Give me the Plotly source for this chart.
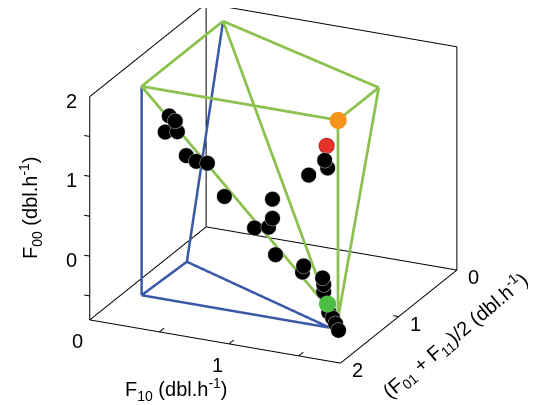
import plotly.graph_objects as go

# ---------------- data ----------------
x_range = [0, 1.8]      # F10
y_range = [2, 0]        # (F01+F11)/2, reversed (0 at back)
z_range = [-0.8, 2]     # F00

pts_x = [0.486, 0.529, 0.457, 0.544, 0.608, 0.680, 0.760, 0.882, 1.227, 1.227,
         1.199, 1.098, 1.249, 1.451, 1.443, 1.587, 1.595, 1.595, 1.652, 1.701,
         1.743, 1.785, 1.602, 1.623, 1.487]
pts_y = [1.8, 1.8, 1.8, 1.8, 1.8, 1.8, 1.8, 1.8, 1.8, 1.8,
         1.8, 1.8, 1.8, 1.8, 1.8, 1.8, 1.8, 1.8, 1.85, 1.9,
         1.95, 2.0, 1.8, 1.8, 1.8]
pts_z = [1.79, 1.74, 1.58, 1.61, 1.33, 1.28, 1.28, 0.90, 0.97, 0.73,
         0.61, 0.57, 0.28, 0.20, 0.12, 0.09, 0.01, -0.08, -0.29, -0.32,
         -0.35, -0.39, 1.57, 1.48, 1.35]

red_pt = [1.595, 1.75, 1.72]
orange_pt = [1.64, 1.66, 2.0]
green_pt = [1.706, 2.0, -0.084]

# polytope vertices (F10, (F01+F11)/2, F00)
verts = {
    "A": (0.23, 1.66, 2.0), "B": (0.23, 0.26, 2.0), "C": (1.64, 0.96, 2.0),
    "D": (1.64, 1.66, 2.0), "E1": (1.573, 1.66, -0.38), "E2": (1.64, 1.66, -0.49),
    "F": (0.23, 1.66, -0.62), "G": (0.25, 0.93, -0.62), "H": (1.58, 1.66, -0.62),
}
green_edges = [("A", "B"), ("B", "C"), ("C", "D"), ("D", "A"), ("A", "E1"),
               ("B", "E1"), ("D", "E2"), ("C", "E2"), ("E1", "E2")]
blue_edges = [("A", "F"), ("B", "G"), ("F", "G"), ("F", "H"), ("G", "H")]

x_ticks = [0, 0.5, 1, 1.5]; x_ticktext = ["0", "", "1", ""]
y_ticks = [0, 1, 2]; y_ticktext = ["0", "1", "2"]
z_ticks = [-0.5, 0, 0.5, 1, 1.5, 2]; z_ticktext = ["", "0", "", "1", "", "2"]

# ---------------- figure ----------------
FONT = "Liberation Sans, Arial, sans-serif"
x0, x1 = x_range
y0, y1 = min(y_range), max(y_range)
z0, z1 = z_range
pad, eps = 0.05, 0.01   # room for outward tick marks / avoid clipping at the box

def edge_xyz(edges):
    xs, ys, zs = [], [], []
    for a, b in edges:
        for v in (verts[a], verts[b]):
            xs.append(v[0]); ys.append(v[1]); zs.append(v[2])
        xs.append(None); ys.append(None); zs.append(None)
    return xs, ys, zs

def seg_xyz(segs):
    xs, ys, zs = [], [], []
    for p, q in segs:
        xs += [p[0], q[0], None]; ys += [p[1], q[1], None]; zs += [p[2], q[2], None]
    return xs, ys, zs

fig = go.Figure()

# axes box (MATLAB style: back planes + front axes) and tick marks
box = [
    ((x0, y1, z0), (x1, y1, z0)), ((x0, y0, z0), (x1, y0, z0)), ((x0, y0, z1), (x1, y0, z1)),
    ((x0, y0, z0), (x0, y1, z0)), ((x0, y0, z1), (x0, y1, z1)), ((x1, y0, z0), (x1, y1, z0)),
    ((x0, y1, z0), (x0, y1, z1)), ((x0, y0, z0), (x0, y0, z1)), ((x1, y0, z0), (x1, y0, z1)),
]
tl = 0.04
ticks = [((v, y1, z0), (v, y1 - 2 * tl, z0)) for v in x_ticks if x0 < v < x1]
ticks += [((x1, v, z0), (x1 - tl, v, z0)) for v in y_ticks if y0 < v < y1]
ticks += [((x0, y1, v), (x0 - tl, y1, v)) for v in z_ticks if z0 < v < z1]
bx, by, bz = seg_xyz(box + ticks)
fig.add_trace(go.Scatter3d(x=bx, y=by, z=bz, mode="lines",
                           line=dict(color="black", width=2), hoverinfo="skip"))

gx, gy, gz = edge_xyz(blue_edges)
fig.add_trace(go.Scatter3d(x=gx, y=gy, z=gz, mode="lines",
                           line=dict(color="#3B58A8", width=5), hoverinfo="skip"))
gx, gy, gz = edge_xyz(green_edges)
fig.add_trace(go.Scatter3d(x=gx, y=gy, z=gz, mode="lines",
                           line=dict(color="#8CC04F", width=5.5), hoverinfo="skip"))

fig.add_trace(go.Scatter3d(x=pts_x, y=pts_y, z=pts_z, mode="markers",
                           marker=dict(size=9, color="black",
                                       line=dict(color="#BBBBBB", width=1))))
fig.add_trace(go.Scatter3d(x=[red_pt[0]], y=[red_pt[1]], z=[red_pt[2]], mode="markers",
                           marker=dict(size=9, color="#E5332A",
                                       line=dict(color="#5A1010", width=1))))
fig.add_trace(go.Scatter3d(x=[orange_pt[0]], y=[orange_pt[1]], z=[orange_pt[2]], mode="markers",
                           marker=dict(size=10, color="#F7941D")))
fig.add_trace(go.Scatter3d(x=[green_pt[0]], y=[green_pt[1]], z=[green_pt[2]], mode="markers",
                           marker=dict(size=10, color="#4DBD48")))

def ax(rng):
    return dict(range=rng, showgrid=False, showbackground=False, showline=False,
                zeroline=False, showspikes=False, ticks="", showticklabels=False,
                title=dict(text=""))

tick_ann = []
for v, t in zip(z_ticks, z_ticktext):
    if t:
        tick_ann.append(dict(x=x0, y=y1, z=v, text=t, xshift=-18, yshift=-4))
for v, t in zip(x_ticks, x_ticktext):
    if t:
        tick_ann.append(dict(x=v, y=y1, z=z0, text=t, xshift=-12, yshift=-21))
for v, t in zip(y_ticks, y_ticktext):
    if t:
        tick_ann.append(dict(x=x1, y=v, z=z0, text=t, xshift=17, yshift=-7))
for a in tick_ann:
    a.update(showarrow=False, xanchor="center", yanchor="middle",
             font=dict(family=FONT, size=20, color="black"))

# scene scaling (scene units per data unit) and view
kx, ky, kz = 0.7583, 0.6825, 0.4241
xr = [x0 - pad, x1 + eps]; yr = [y1 + eps, y0 - eps]; zr = [z0 - eps, z1 + eps]
shift = dict(x=0.0456, y=-0.0342, z=-0.127)
eye_dir = (1.173, -2.526, 1.113)

fig.update_layout(
    width=536, height=405, margin=dict(l=0, r=0, t=0, b=0),
    paper_bgcolor="white", showlegend=False,
    font=dict(family=FONT, size=20, color="black"),
    scene=dict(
        xaxis=ax(xr), yaxis=ax(yr), zaxis=ax(zr),
        aspectmode="manual",
        aspectratio=dict(x=(xr[1] - xr[0]) * kx, y=(yr[0] - yr[1]) * ky,
                         z=(zr[1] - zr[0]) * kz),
        camera=dict(projection=dict(type="orthographic"),
                    eye=dict(x=eye_dir[0] + shift["x"], y=eye_dir[1] + shift["y"],
                             z=eye_dir[2] + shift["z"]),
                    center=shift, up=dict(x=0, y=0, z=1)),
        domain=dict(x=[0, 1], y=[0, 1]),
        annotations=tick_ann,
    ),
    annotations=[
        dict(text="F<sub>00</sub> (dbl.h<sup>-1</sup>)", xref="paper", yref="paper",
             x=22 / 536, y=1 - 200 / 405, textangle=-90, showarrow=False,
             xanchor="center", yanchor="middle"),
        dict(text="F<sub>10</sub> (dbl.h<sup>-1</sup>)", xref="paper", yref="paper",
             x=168 / 536, y=1 - 381 / 405, showarrow=False,
             xanchor="center", yanchor="middle"),
        dict(text="(F<sub>01</sub> + F<sub>11</sub>)/2 (dbl.h<sup>-1</sup>)", xref="paper",
             yref="paper", x=447 / 536, y=1 - 327 / 405, textangle=-40, showarrow=False,
             xanchor="center", yanchor="middle"),
    ],
)
fig.write_html("out.html")
